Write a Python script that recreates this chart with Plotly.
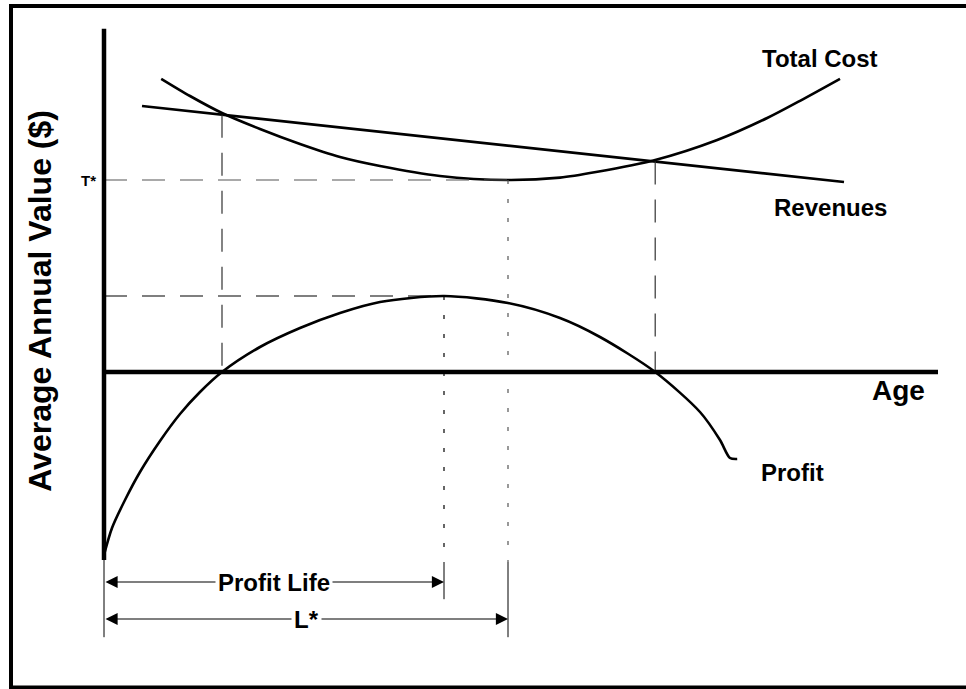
import plotly.graph_objects as go

# Age axis in years, value axis in arbitrary $ units (origin at the axes corner)
cost_age = [1.43, 2.15, 2.95, 3.9, 4.9, 5.9, 6.9, 8.4, 10.1, 11.4, 12.3, 13.78, 15.33, 16.58, 17.4, 18.4]
cost_val = [7.33, 6.9, 6.475, 6.075, 5.7, 5.375, 5.15, 4.9, 4.8, 4.86, 5.0, 5.3, 5.8, 6.35, 6.78, 7.33]

revenue_age = [0.95, 18.5]
revenue_val = [6.65, 4.75]

profit_age = [0.0, 0.2, 0.525, 0.9, 1.4, 1.9, 2.4, 2.95, 3.9, 4.9, 5.9, 6.9, 8.5,
              10.1, 11.4, 12.4, 13.78, 14.9, 15.4, 15.65, 15.83]
profit_val = [-4.575, -3.9, -3.2, -2.5, -1.725, -1.05, -0.5, 0.0, 0.625, 1.1, 1.475, 1.75, 1.9,
              1.725, 1.35, 0.875, 0.0, -1.0, -1.7, -2.15, -2.175]

breakeven_ages = [2.95, 13.78]
profit_life = 8.5      # age of maximum average profit
l_star = 10.1          # age of minimum average total cost
t_star = 4.8           # minimum average total cost
max_profit = 1.9

labels = {'cost': 'Total Cost', 'revenue': 'Revenues', 'profit': 'Profit',
          'x': 'Age', 'y': 'Average Annual Value ($)', 't': 'T*',
          'life': 'Profit Life', 'l': 'L*'}

FONT = 'Liberation Sans, Arial, sans-serif'


def revenue_at(a):
    slope = (revenue_val[1] - revenue_val[0]) / (revenue_age[1] - revenue_age[0])
    return revenue_val[0] + slope * (a - revenue_age[0])


fig = go.Figure()

curve = dict(color='black', width=2.6)
fig.add_trace(go.Scatter(x=cost_age, y=cost_val, mode='lines',
                         line=dict(curve, shape='spline', smoothing=0.8), hoverinfo='skip'))
fig.add_trace(go.Scatter(x=revenue_age, y=revenue_val, mode='lines', line=curve, hoverinfo='skip'))
fig.add_trace(go.Scatter(x=profit_age, y=profit_val, mode='lines',
                         line=dict(curve, shape='spline', smoothing=0.8), hoverinfo='skip'))

shapes = []
dash_long = '23px,15px'
dots = '4px,15px'

# guide lines
shapes.append(dict(type='line', x0=0, x1=l_star, y0=t_star, y1=t_star,
                   line=dict(color='#555', width=1.2, dash=dash_long)))
shapes.append(dict(type='line', x0=0, x1=profit_life, y0=max_profit, y1=max_profit,
                   line=dict(color='black', width=1.2, dash=dash_long)))
for a in breakeven_ages:
    shapes.append(dict(type='line', x0=a, x1=a, y0=revenue_at(a), y1=0,
                       line=dict(color='#333', width=1.2, dash=dash_long)))
shapes.append(dict(type='line', x0=profit_life, x1=profit_life, y0=max_profit, y1=-4.75,
                   line=dict(color='black', width=1.2, dash=dots)))
shapes.append(dict(type='line', x0=l_star, x1=l_star, y0=t_star, y1=-4.75,
                   line=dict(color='#555', width=1.2, dash=dots)))

# extension ticks for the dimension arrows
shapes.append(dict(type='line', x0=profit_life, x1=profit_life, y0=-4.75, y1=-5.68,
                   line=dict(color='black', width=1)))
shapes.append(dict(type='line', x0=l_star, x1=l_star, y0=-4.75, y1=-6.63,
                   line=dict(color='black', width=1)))
shapes.append(dict(type='line', x0=0, x1=0, y0=-4.7, y1=-6.63,
                   line=dict(color='black', width=1)))

# axes
shapes.append(dict(type='line', x0=0, x1=0, y0=-4.7, y1=8.58, line=dict(color='black', width=4.5)))
shapes.append(dict(type='line', x0=0, x1=20.85, y0=0, y1=0, line=dict(color='black', width=4.5)))

# frame (open on the right, as in the source image)
shapes.append(dict(type='line', xref='paper', yref='paper', x0=11 / 966, x1=11 / 966,
                   y0=1 - 6 / 689, y1=1 - 687.5 / 689, line=dict(color='black', width=4)))
shapes.append(dict(type='line', xref='paper', yref='paper', x0=9 / 966, x1=1,
                   y0=1 - 6 / 689, y1=1 - 6 / 689, line=dict(color='black', width=4)))
shapes.append(dict(type='line', xref='paper', yref='paper', x0=9 / 966, x1=1,
                   y0=1 - 687.5 / 689, y1=1 - 687.5 / 689, line=dict(color='black', width=4)))

annotations = []
# dimension arrows
for end, yy in [(profit_life, -5.25), (l_star, -6.175)]:
    annotations.append(dict(x=end, y=yy, ax=0, ay=yy, axref='x', ayref='y', xref='x', yref='y',
                            text='', showarrow=True, arrowside='end+start', arrowhead=2,
                            arrowsize=2.2, arrowwidth=1.1, arrowcolor='black'))


def label(text, x, y, size, **kw):
    annotations.append(dict(x=x, y=y, xref='x', yref='y', text=f'<b>{text}</b>', showarrow=False,
                            font=dict(family=FONT, size=size, color='black'), **kw))


label(labels['life'], profit_life / 2, -5.25, 24, bgcolor='white', borderpad=2)
label(labels['l'], l_star / 2, -6.175, 24, bgcolor='white', borderpad=2)
label(labels['cost'], 17.9, 7.85, 24)
label(labels['revenue'], 18.15, 4.125, 24)
label(labels['profit'], 17.2, -2.5, 24)
label(labels['x'], 19.85, -0.45, 28)
label(labels['t'], -0.15, t_star, 15, xanchor='right')
label(labels['y'], -1.6, 1.78, 32, textangle=-90)

fig.update_layout(
    width=966, height=689,
    margin=dict(l=0, r=0, t=0, b=0),
    paper_bgcolor='white', plot_bgcolor='white',
    showlegend=False,
    hovermode=False,
    xaxis=dict(range=[-2.6, 21.55], visible=False),
    yaxis=dict(range=[-7.925, 9.3], visible=False),
    shapes=shapes,
    annotations=annotations,
)

# drop the browser's default body margin so the figure sits at the window corner
fig.write_html("out.html", config={'displayModeBar': False},
               post_script="document.body.style.margin='0';")
